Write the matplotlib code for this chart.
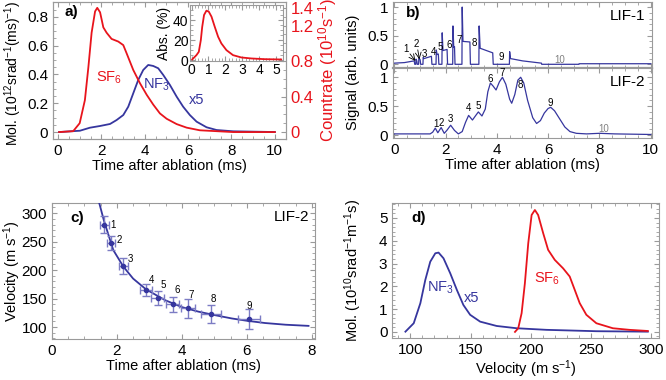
import matplotlib
matplotlib.use("Agg")
import matplotlib.pyplot as plt
from matplotlib.ticker import AutoMinorLocator

plt.rcParams['font.family'] = ['Liberation Sans', 'DejaVu Sans']
plt.rcParams['font.size'] = 10.5
plt.rcParams['xtick.labelsize'] = 11
plt.rcParams['ytick.labelsize'] = 11
plt.rcParams['mathtext.fontset'] = 'custom'
plt.rcParams['mathtext.rm'] = 'Liberation Sans'
plt.rcParams['mathtext.it'] = 'Liberation Sans'

RED = '#e8141c'
BLUE = '#36369e'
GRAY = '#9a9a9a'

# ---- panel a: time of flight ----
sf6_t = [0.05, 0.7, 1.0, 1.24, 1.40, 1.55, 1.71, 1.81, 1.94, 2.09, 2.24, 2.47, 2.78, 3.01, 3.16,
         3.47, 3.78, 4.09, 4.39, 4.70, 5.01, 5.47, 5.93, 6.54, 7.31, 8.08, 10.0]
sf6_rate = [0.0, 0.01, 0.10, 0.36, 0.73, 1.12, 1.36, 1.40, 1.35, 1.18, 1.12, 1.05, 1.02, 0.98, 0.89,
            0.70, 0.55, 0.42, 0.31, 0.21, 0.15, 0.09, 0.05, 0.02, 0.01, 0.0, 0.0]
nf3_t = [0.05, 1.01, 1.47, 1.94, 2.40, 2.70, 3.01, 3.24, 3.47, 3.70, 3.93, 4.16, 4.39, 4.62, 4.85,
         5.16, 5.47, 5.77, 6.08, 6.39, 6.85, 7.31, 8.08, 10.0]
nf3_mol = [0.0, 0.009, 0.03, 0.042, 0.056, 0.083, 0.118, 0.176, 0.269, 0.362, 0.431, 0.466, 0.459,
           0.443, 0.397, 0.327, 0.246, 0.176, 0.118, 0.072, 0.033, 0.014, 0.005, 0.0]
abs_t = [0.04, 0.29, 0.43, 0.55, 0.63, 0.74, 0.88, 1.02, 1.18, 1.37, 1.57, 1.76, 2.06, 2.45, 2.94,
         3.53, 4.31, 5.29]
abs_pct = [0.7, 5, 8.3, 20, 33, 45, 49.3, 48.3, 43.3, 33.3, 23.3, 16.7, 10, 5, 2.7, 1.7, 1, 0.7]

# ---- panel b: LIF signals ----
lif1_t = [0.0, 0.40, 0.78, 0.80, 0.84, 0.85, 0.88, 0.90, 0.95, 0.96, 1.01, 1.03, 1.12, 1.13, 1.16,
          1.45, 1.47, 1.63, 1.64, 1.67, 1.72, 1.74, 1.86, 1.87, 1.90, 2.06, 2.08, 2.28, 2.29, 2.32,
          2.35, 2.37, 2.64, 2.65, 2.68, 2.95, 2.97, 3.30, 3.31, 3.35, 3.84, 3.86, 4.49, 4.50, 4.53,
          5.00, 5.74, 5.75, 7.20, 7.21, 10.0]
lif1_v = [0.02, 0.03, 0.06, 0.0, 0.0, 0.09, 0.06, 0.0, 0.0, 0.11, 0.08, 0.0, 0.0, 0.12, 0.10,
          0.14, 0.0, 0.0, 0.25, 0.17, 0.18, 0.0, 0.0, 0.55, 0.24, 0.26, 0.0, 0.0, 0.67, 0.30,
          0.31, 0.0, 0.0, 1.0, 0.40, 0.39, 0.0, 0.0, 0.67, 0.28, 0.20, 0.0, 0.0, 0.22, 0.10,
          0.06, 0.02, 0.0, 0.0, 0.01, 0.01]
lif2_t = [0.0, 1.40, 1.50, 1.60, 1.70, 1.83, 1.95, 2.05, 2.20, 2.35, 2.50, 2.65, 2.78, 2.90, 3.05,
          3.18, 3.28, 3.42, 3.55, 3.65, 3.75, 3.85, 3.97, 4.10, 4.22, 4.35, 4.50, 4.58, 4.70, 4.82,
          4.93, 5.05, 5.20, 5.40, 5.55, 5.70, 5.85, 6.00, 6.10, 6.25, 6.45, 6.65, 6.85, 7.10, 7.50,
          8.00, 8.60, 10.0]
lif2_v = [0.02, 0.02, 0.05, 0.12, 0.04, 0.13, 0.03, 0.08, 0.17, 0.08, 0.02, 0.06, 0.22, 0.34, 0.26,
          0.34, 0.40, 0.33, 0.45, 0.75, 0.90, 0.85, 0.78, 0.92, 1.00, 0.88, 0.62, 0.55, 0.70, 0.95,
          1.00, 0.90, 0.60, 0.30, 0.20, 0.25, 0.38, 0.46, 0.48, 0.42, 0.28, 0.14, 0.06, 0.03, 0.02,
          0.03, 0.02, 0.01]
lif1_lab = ['1', '2', '3', '4', '5', '6', '7', '8', '9']
lif1_lab_t = [0.47, 0.86, 1.17, 1.52, 1.79, 2.14, 2.53, 3.11, 4.17]
lif1_lab_v = [0.27, 0.36, 0.18, 0.22, 0.31, 0.34, 0.43, 0.37, 0.13]
lif2_lab = ['1', '2', '3', '4', '5', '6', '7', '8', '9']
lif2_lab_t = [1.61, 1.83, 2.20, 2.90, 3.28, 3.73, 4.22, 4.90, 6.07]
lif2_lab_v = [0.19, 0.20, 0.28, 0.46, 0.50, 0.97, 1.07, 0.86, 0.56]

# ---- panel c: velocity vs arrival time ----
pk_t = [1.61, 1.82, 2.20, 2.89, 3.26, 3.72, 4.20, 4.90, 6.07]
pk_vel = [280, 248, 207, 165, 151, 140, 133, 123, 114]
pk_terr = [0.14, 0.12, 0.15, 0.18, 0.20, 0.20, 0.22, 0.30, 0.35]
pk_verr = [15, 12, 14, 11, 13, 13, 17, 16, 17]
pk_lab_t = [1.89, 2.06, 2.42, 3.07, 3.43, 3.87, 4.30, 4.96, 6.06]
pk_lab_v = [280, 253, 220, 182, 174, 165, 156, 150, 137]
fit_t = [1.46, 1.6, 1.89, 2.2, 2.5, 2.9, 3.49, 4.0, 4.51, 5.0, 5.54, 6.0, 6.56, 7.2, 7.9]
fit_vel = [317, 287, 235, 206, 185, 166, 147, 135, 127, 121, 115, 111, 107, 104, 102]

# ---- panel d: velocity distributions ----
nf3_vel = [95.9, 102.8, 108.3, 112.4, 116.5, 120.7, 123.4, 127.5, 133.1, 138.6, 144.0, 149.6,
           157.9, 171.6, 188.2, 213.0, 254.3, 297.0]
nf3_dist = [0.01, 0.38, 1.26, 2.28, 3.08, 3.45, 3.48, 3.23, 2.57, 1.84, 1.18, 0.75, 0.45, 0.26,
            0.16, 0.09, 0.03, 0.01]
sf6_vel = [186.8, 189.5, 192.3, 195.0, 197.8, 200.6, 203.3, 206.0, 210.2, 214.3, 219.8, 226.7,
           232.2, 236.4, 240.5, 246.0, 254.3, 268.0, 281.8, 297.0]
sf6_dist = [0.0, 0.16, 0.82, 2.13, 3.89, 5.13, 5.35, 5.13, 4.33, 3.60, 3.16, 2.79, 2.43, 1.84,
            1.26, 0.75, 0.38, 0.16, 0.09, 0.04]


def style(ax, right=True):
    for s in ax.spines.values():
        s.set_color(GRAY)
    ax.tick_params(which='both', direction='in', color=GRAY, top=True, right=right)
    ax.tick_params(which='major', length=3.5)
    ax.tick_params(which='minor', length=2)
    ax.xaxis.set_minor_locator(AutoMinorLocator())
    ax.yaxis.set_minor_locator(AutoMinorLocator())


fig = plt.figure(figsize=(6.66, 3.8), dpi=100)

# panel a
axa = fig.add_axes([0.0796, 0.634, 0.3494, 0.361])
axa.plot(nf3_t, nf3_mol, color=BLUE, lw=1.3)
axa.set_xlim(-0.23, 10.5)
axa.set_ylim(-0.049, 0.904)
axa.set_xticks([0, 2, 4, 6, 8, 10])
axa.set_yticks([0, 0.2, 0.4, 0.6, 0.8])
axa.set_yticklabels(['0', '0.2', '0.4', '0.6', '0.8'])
style(axa, right=False)
axa.set_xlabel('Time after ablation (ms)', labelpad=1)
axa.set_ylabel('Mol. (10$^{12}$srad$^{-1}$(ms)$^{-1}$)', fontsize=10)
axa.yaxis.set_label_coords(-0.125, 0.48)
axa.text(0.05, 0.93, 'a)', transform=axa.transAxes, fontweight='bold', fontsize=11, va='center')
axa.text(2.35, 0.38, 'SF$_6$', color=RED, ha='center', va='center')
axa.text(4.55, 0.33, 'NF$_3$', color=BLUE, ha='center', va='center')
axa.text(6.4, 0.22, 'x5', color=BLUE, ha='center', va='center')
axr = axa.twinx()
axr.plot(sf6_t, sf6_rate, color=RED, lw=1.3)
axr.set_ylim(-0.079, 1.467)
axr.set_yticks([0, 0.4, 0.8, 1.2, 1.4])
axr.set_yticklabels(['0', '0.4', '0.8', '1.2', '1.4'])
for s in axr.spines.values():
    s.set_color(GRAY)
axr.tick_params(which='both', direction='in', color=GRAY, labelcolor=RED, labelsize=12)
axr.yaxis.set_minor_locator(AutoMinorLocator())
axr.set_ylabel('Countrate (10$^{10}$s$^{-1}$)', color=RED, fontsize=12, labelpad=2)

ins = fig.add_axes([0.285, 0.839, 0.140, 0.148])
ins.plot(abs_t, abs_pct, color=RED, lw=1.3)
ins.set_xlim(-0.1, 5.4)
ins.set_ylim(-1, 55)
ins.set_xticks([0, 1, 2, 3, 4, 5])
ins.set_yticks([0, 20, 40])
style(ins)
ins.tick_params(labelsize=10, pad=1)
ins.set_ylabel('Abs. (%)', fontsize=10, labelpad=1)

# panel b
axb1 = fig.add_axes([0.590, 0.821, 0.389, 0.174])
axb2 = fig.add_axes([0.590, 0.637, 0.389, 0.184], sharex=axb1)
axb1.plot(lif1_t, lif1_v, color=BLUE, lw=0.9)
axb2.plot(lif2_t, lif2_v, color=BLUE, lw=0.9)
axb1.set_xlim(-0.05, 10.05)
axb1.set_ylim(-0.065, 1.09)
axb2.set_ylim(-0.05, 1.16)
for ax in (axb1, axb2):
    ax.set_yticks([0, 0.5, 1])
    ax.set_yticklabels(['0', '0.5', '1'])
    style(ax)
axb2.set_xticks([0, 2, 4, 6, 8, 10])
axb1.tick_params(labelbottom=False)
axb1.spines['bottom'].set_linewidth(1.6)
axb2.set_xlabel('Time after ablation (ms)', labelpad=1)
fig.text(0.530, 0.81, 'Signal (arb. units)', rotation=90, ha='center', va='center')
axb1.text(0.05, 0.83, 'b)', transform=axb1.transAxes, fontweight='bold', fontsize=11, va='center')
axb1.text(9.8, 0.85, 'LIF-1', ha='right', va='center', fontsize=11)
axb2.text(9.8, 0.92, 'LIF-2', ha='right', va='center', fontsize=11)
for s, x, y in zip(lif1_lab, lif1_lab_t, lif1_lab_v):
    axb1.text(x, y, s, fontsize=7, ha='center', va='center')
axb1.annotate('', xy=(0.89, 0.02), xytext=(0.55, 0.22),
              arrowprops=dict(arrowstyle='->', lw=0.6, color='black'))
axb1.annotate('', xy=(1.0, 0.04), xytext=(0.9, 0.30),
              arrowprops=dict(arrowstyle='->', lw=0.6, color='black'))
axb1.text(6.46, 0.08, '10', fontsize=7, color='#808080', ha='center', va='center')
for s, x, y in zip(lif2_lab, lif2_lab_t, lif2_lab_v):
    axb2.text(x, y, s, fontsize=7, ha='center', va='center')
axb2.text(8.18, 0.1, '10', fontsize=7, color='#808080', ha='center', va='center')

# panel c
axc = fig.add_axes([0.078, 0.108, 0.395, 0.358])
axc.plot(fit_t, fit_vel, color=BLUE, lw=1.3, zorder=3)
axc.errorbar(pk_t, pk_vel, xerr=pk_terr, yerr=pk_verr, fmt='o', ms=3, color=BLUE,
             ecolor='#7c7cc4', elinewidth=1.0, capsize=3, zorder=4)
axc.set_xlim(0, 8.1)
axc.set_ylim(79, 318)
axc.set_xticks([0, 2, 4, 6, 8])
axc.set_yticks([100, 150, 200, 250, 300])
style(axc)
axc.set_xlabel('Time after ablation (ms)', labelpad=1)
axc.set_ylabel('Velocity (m s$^{-1}$)')
axc.yaxis.set_label_coords(-0.11, 0.5)
axc.text(0.07, 0.89, 'c)', transform=axc.transAxes, fontweight='bold', fontsize=11, va='center')
axc.text(7.93, 293, 'LIF-2', ha='right', va='center', fontsize=11)
for i, (x, y) in enumerate(zip(pk_lab_t, pk_lab_v)):
    axc.text(x, y, str(i + 1), fontsize=7, ha='center', va='center')

# panel d
axd = fig.add_axes([0.589, 0.111, 0.400, 0.355])
axd.plot(nf3_vel, nf3_dist, color=BLUE, lw=1.3)
axd.plot(sf6_vel, sf6_dist, color=RED, lw=1.3)
axd.set_xlim(85, 306)
axd.set_ylim(-0.26, 5.66)
axd.set_xticks([100, 150, 200, 250, 300])
axd.set_yticks([0, 1, 2, 3, 4, 5])
style(axd)
axd.set_xlabel('Velocity (m s$^{-1}$)', labelpad=1)
axd.set_ylabel('Mol. (10$^{10}$srad$^{-1}$m$^{-1}$s)')
axd.yaxis.set_label_coords(-0.105, 0.5)
axd.text(0.07, 0.89, 'd)', transform=axd.transAxes, fontweight='bold', fontsize=11, va='center')
axd.text(124.8, 1.93, 'NF$_3$', color=BLUE, ha='center', va='center')
axd.text(151, 1.48, 'x5', color=BLUE, ha='center', va='center')
axd.text(213, 2.35, 'SF$_6$', color=RED, ha='center', va='center')

fig.savefig('out.png', dpi=100)
